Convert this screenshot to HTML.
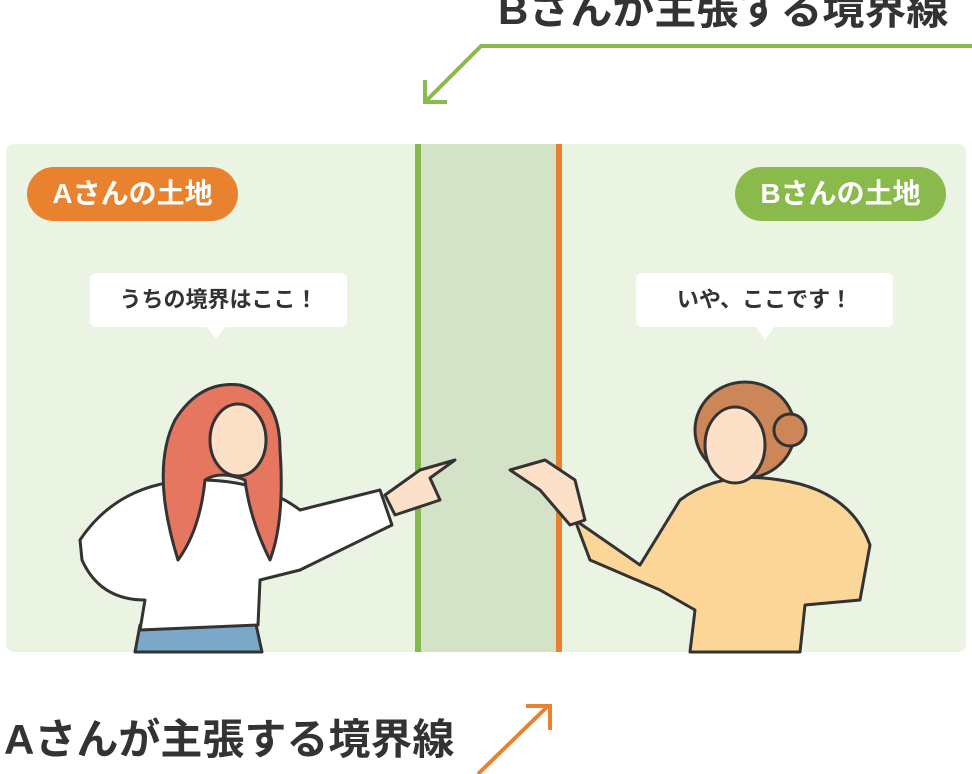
<!DOCTYPE html>
<html><head><meta charset="utf-8"><style>
body{margin:0;width:972px;height:774px;background:#fff;position:relative;overflow:hidden;font-family:"Liberation Sans","Noto Sans CJK JP",sans-serif;}
.t{position:absolute;font-weight:bold;color:#333;white-space:nowrap;}
.pill{position:absolute;height:54px;border-radius:27px;color:#fff;font-weight:bold;font-size:28px;line-height:54px;text-align:center;width:211px;top:167px;}
.bub{position:absolute;top:273px;height:54px;width:257px;background:#fff;border-radius:6px;font-weight:bold;font-size:22px;line-height:54px;text-align:center;color:#333;}
</style></head><body>
<div class="t" style="left:498px;top:-24px;font-size:42px;">Bさんが主張する境界線</div>
<div style="position:absolute;left:6px;top:144px;width:960px;height:508px;background:#ebf4e3;border-radius:8px;"></div>
<div style="position:absolute;left:415px;top:144px;width:146px;height:508px;background:#d4e3c8;"></div>
<div style="position:absolute;left:415px;top:144px;width:6px;height:508px;background:#85b94b;"></div>
<div style="position:absolute;left:556px;top:144px;width:6px;height:508px;background:#e8822f;"></div>
<div class="pill" style="left:27px;background:#e8822f;">Aさんの土地</div>
<div class="pill" style="left:735px;background:#8ab94c;">Bさんの土地</div>
<div class="bub" style="left:90px;">うちの境界はここ！</div>
<div class="bub" style="left:636px;">いや、ここです！</div>
<svg width="972" height="774" style="position:absolute;left:0;top:0">
<polygon points="207,327 225,327 216,340" fill="#fff"/>
<polygon points="756,327 774,327 765,340" fill="#fff"/>
<polyline points="972,46 481,46 427,100" fill="none" stroke="#8ab94c" stroke-width="4"/>
<polyline points="425,80 425,102 447,102" fill="none" stroke="#8ab94c" stroke-width="4"/>
<line x1="478" y1="774" x2="548" y2="706" stroke="#e8822f" stroke-width="4"/>
<polyline points="526,706 550,706 550,730" fill="none" stroke="#e8822f" stroke-width="4"/>
<g stroke="#333" stroke-width="3" stroke-linejoin="round">
<path d="M135,652 L140,625 L255,620 L262,652 Z" fill="#7ba7c9"/>
<path d="M80,540 Q120,480 200,480 Q260,480 300,510 L380,490 L392,525 L300,570 L260,580 L258,625 L140,630 L145,600 Q100,600 82,560 Z" fill="#fff"/>
<path d="M178,560 Q150,470 175,420 Q200,380 240,385 Q280,395 280,450 Q285,520 270,560 Q250,520 245,480 Q220,470 205,480 Q200,530 178,560 Z" fill="#e5765f"/>
<ellipse cx="238" cy="440" rx="28" ry="36" fill="#fde0c8"/>
<path d="M385,495 L420,470 L455,460 L430,478 L440,500 L395,515 Z" fill="#fde0c8"/>
<path d="M575,520 L640,565 L680,500 Q720,470 780,480 Q850,490 870,545 L860,600 L805,605 L800,652 L690,652 L695,610 L660,590 L590,560 Z" fill="#fcd699"/>
<ellipse cx="745" cy="430" rx="50" ry="48" fill="#cd8657"/>
<circle cx="790" cy="430" r="16" fill="#cd8657"/>
<ellipse cx="735" cy="445" rx="30" ry="38" fill="#fde0c8"/>
<path d="M510,470 L545,460 L575,480 L585,520 L570,525 L540,490 Z" fill="#fde0c8"/>
</g>
</svg>
<div class="t" style="left:4px;top:706px;font-size:42px;">Aさんが主張する境界線</div>
</body></html>
